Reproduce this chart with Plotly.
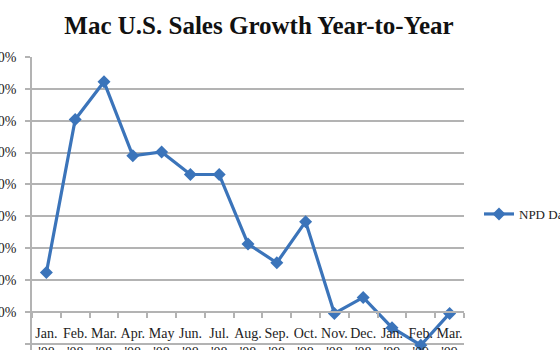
import plotly.graph_objects as go

months = ["Jan.", "Feb.", "Mar.", "Apr.", "May", "Jun.", "Jul.", "Aug.", "Sep.", "Oct.",
          "Nov.", "Dec.", "Jan.", "Feb.", "Mar."]
years = ["'08"] * 12 + ["'09"] * 3
growth = [12.3, 60.4, 72.2, 49.0, 50.2, 43.1, 43.1, 21.3, 15.4, 28.3, -0.5, 4.5, -5.0, -10.5, -0.5]
series_name = "NPD Data"
title = "Mac U.S. Sales Growth Year-to-Year"

categories = [f"{m}<br>{y}" for m, y in zip(months, years)]

W, H = 560, 350
ml, mr, mt, mb = 32, 96, 57, 0
ymin, ymax = -12.0, 80.0

blue = "#3b74ba"
grid = "#b3b3b3"
serif = "Liberation Serif"

fig = go.Figure()
fig.add_trace(go.Scatter(
    x=categories, y=growth, name=series_name, mode="lines+markers",
    line=dict(color=blue, width=3.2),
    marker=dict(symbol="diamond", size=10, color=blue),
    cliponaxis=False,
))

fig.update_layout(
    width=W, height=H,
    margin=dict(l=ml, r=mr, t=mt, b=mb, autoexpand=False),
    paper_bgcolor="white", plot_bgcolor="white",
    title=dict(text=f"<b>{title}</b>", x=259 / W, xanchor="center",
               y=1 - 25 / H, yanchor="middle", yref="container", xref="container",
               font=dict(family=serif, size=25, color="#111")),
    showlegend=True,
    legend=dict(xref="container", yref="container", x=479 / W, y=1 - 214 / H,
                xanchor="left", yanchor="middle", bgcolor="rgba(0,0,0,0)",
                font=dict(family=serif, size=13, color="#222")),
    xaxis=dict(
        type="category", range=[-0.5, len(categories) - 0.5],
        anchor="free", position=(0 - ymin) / (ymax - ymin),
        showline=True, linecolor=grid, linewidth=1.5,
        ticks="outside", tickson="boundaries", ticklen=5, tickcolor=grid, tickwidth=1.5,
        showgrid=False, automargin=False, tickangle=0, ticklabelstandoff=9,
        tickfont=dict(family=serif, size=14, color="#222"),
    ),
    yaxis=dict(
        range=[ymin, ymax], dtick=10, tick0=0, ticksuffix="%",
        showgrid=True, gridcolor=grid, gridwidth=1.5,
        showline=True, linecolor=grid, linewidth=1.5,
        ticks="outside", ticklen=5, tickcolor=grid, tickwidth=1.5,
        zeroline=False, automargin=False, ticklabelstandoff=6,
        tickfont=dict(family=serif, size=14, color="#222"),
    ),
)

fig.write_html("out.html")
